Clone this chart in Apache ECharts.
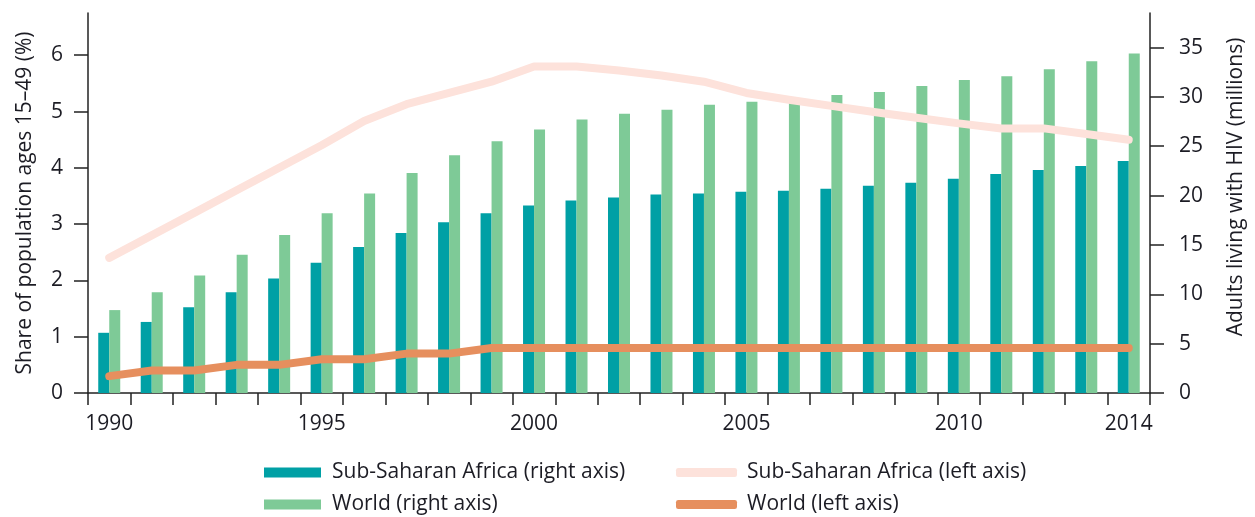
<!DOCTYPE html>
<html>
<head>
<meta charset="utf-8">
<script src="https://cdn.jsdelivr.net/npm/echarts@6/dist/echarts.min.js"></script>
<style>
  html, body { margin: 0; padding: 0; background: #ffffff; }
  #chart { width: 1255px; height: 517px; }
</style>
</head>
<body>
<div id="chart"></div>
<script>
// Years on the category axis and the ones that get a label
const years = ['1990','1991','1992','1993','1994','1995','1996','1997','1998','1999',
               '2000','2001','2002','2003','2004','2005','2006','2007','2008','2009',
               '2010','2011','2012','2013','2014'];
const yearLabels = ['1990','1995','2000','2005','2010','2014'];

// Adults living with HIV, millions (right axis, bars)
const ssaAdults   = [6.1, 7.2, 8.7, 10.2, 11.6, 13.2, 14.8, 16.2, 17.3, 18.2, 19.0, 19.5, 19.8,
                     20.1, 20.2, 20.4, 20.5, 20.7, 21.0, 21.3, 21.7, 22.2, 22.6, 23.0, 23.5];
const worldAdults = [8.4, 10.2, 11.9, 14.0, 16.0, 18.2, 20.2, 22.3, 24.1, 25.5, 26.7, 27.7, 28.3,
                     28.7, 29.2, 29.5, 29.8, 30.2, 30.5, 31.1, 31.7, 32.1, 32.8, 33.6, 34.4];

// Share of population ages 15-49, % (left axis, lines)
const ssaShare   = [2.4, 2.8, 3.2, 3.6, 4.0, 4.4, 4.83, 5.13, 5.33, 5.53, 5.8, 5.8, 5.73,
                    5.64, 5.53, 5.33, 5.21, 5.10, 4.99, 4.89, 4.79, 4.70, 4.70, 4.60, 4.50];
const worldShare = [0.3, 0.4, 0.4, 0.5, 0.5, 0.6, 0.6, 0.7, 0.7, 0.8, 0.8, 0.8, 0.8,
                    0.8, 0.8, 0.8, 0.8, 0.8, 0.8, 0.8, 0.8, 0.8, 0.8, 0.8, 0.8];

// Tick values for both value axes
const leftTicks  = [0, 1, 2, 3, 4, 5, 6];
const rightTicks = [0, 5, 10, 15, 20, 25, 30, 35];

const names = {
  ssaRight: 'Sub-Saharan Africa (right axis)',
  worldRight: 'World (right axis)',
  ssaLeft: 'Sub-Saharan Africa (left axis)',
  worldLeft: 'World (left axis)'
};

const FONT = "'Open Sans', 'Noto Sans', sans-serif";
const INK = '#1c1c24';
const AXIS = '#222222';
const COLORS = { teal: '#00A0A5', green: '#7ECA97', pink: '#FDE2DB', orange: '#E68F5E' };

const textBase = { fontFamily: FONT, fontSize: 21, color: INK };

const chart = echarts.init(document.getElementById('chart'), null, { renderer: 'canvas' });

chart.setOption({
  animation: false,
  backgroundColor: '#ffffff',
  grid: { left: 88, right: 99, top: 13, bottom: 124, containLabel: false },
  legend: [
    {
      orient: 'vertical', left: 264, top: 460, padding: 0, itemGap: 7,
      itemWidth: 57, itemHeight: 10, selectedMode: false,
      textStyle: Object.assign({}, textBase, { lineHeight: 25, padding: [0, 0, 0, 6] }),
      data: [ { name: names.ssaRight, icon: 'rect' }, { name: names.worldRight, icon: 'rect' } ]
    },
    {
      orient: 'vertical', left: 676, top: 460, padding: 0, itemGap: 7,
      itemWidth: 61, itemHeight: 9, selectedMode: false,
      textStyle: Object.assign({}, textBase, { lineHeight: 25, padding: [0, 0, 0, 5] }),
      data: [ { name: names.ssaLeft, icon: 'roundRect' }, { name: names.worldLeft, icon: 'roundRect' } ]
    }
  ],
  xAxis: {
    type: 'category',
    data: years,
    boundaryGap: true,
    axisLine: { show: true, lineStyle: { color: AXIS, width: 1.5 } },
    axisTick: { show: true, interval: 0, length: 12, lineStyle: { color: AXIS, width: 1.5 } },
    axisLabel: Object.assign({}, textBase, {
      interval: (i, v) => yearLabels.includes(v),
      margin: 21
    }),
    splitLine: { show: false }
  },
  yAxis: [
    {
      type: 'value', position: 'left', min: 0, max: 6.75,
      name: 'Share of population ages 15\u201349 (%)',
      nameLocation: 'middle', nameRotate: 90, nameGap: 52,
      nameTextStyle: Object.assign({}, textBase),
      axisLine: { show: true, lineStyle: { color: AXIS, width: 1.5 } },
      axisTick: { show: true, length: 14, customValues: leftTicks, lineStyle: { color: AXIS, width: 1.5 } },
      axisLabel: Object.assign({}, textBase, { customValues: leftTicks, margin: 25 }),
      splitLine: { show: false }
    },
    {
      type: 'value', position: 'right', min: 0, max: 38.5,
      name: 'Adults living with HIV (millions)',
      nameLocation: 'middle', nameRotate: 90, nameGap: 76,
      nameTextStyle: Object.assign({}, textBase, { padding: [0, 0, 0, 32] }),
      axisLine: { show: true, lineStyle: { color: AXIS, width: 1.5 } },
      axisTick: { show: true, length: 14, customValues: rightTicks, lineStyle: { color: AXIS, width: 1.5 } },
      axisLabel: Object.assign({}, textBase, { customValues: rightTicks, margin: 29 }),
      splitLine: { show: false }
    }
  ],
  series: [
    {
      name: names.ssaRight, type: 'bar', yAxisIndex: 1,
      data: ssaAdults, barWidth: 11, barGap: '0%',
      itemStyle: { color: COLORS.teal }
    },
    {
      name: names.worldRight, type: 'bar', yAxisIndex: 1,
      data: worldAdults, barWidth: 11, barGap: '0%',
      itemStyle: { color: COLORS.green }
    },
    {
      name: names.ssaLeft, type: 'line', yAxisIndex: 0,
      data: ssaShare, symbol: 'none',
      lineStyle: { color: COLORS.pink, width: 8, cap: 'round', join: 'round' },
      itemStyle: { color: COLORS.pink }
    },
    {
      name: names.worldLeft, type: 'line', yAxisIndex: 0,
      data: worldShare, symbol: 'none',
      lineStyle: { color: COLORS.orange, width: 8, cap: 'round', join: 'round' },
      itemStyle: { color: COLORS.orange }
    }
  ]
});
</script>
</body>
</html>
